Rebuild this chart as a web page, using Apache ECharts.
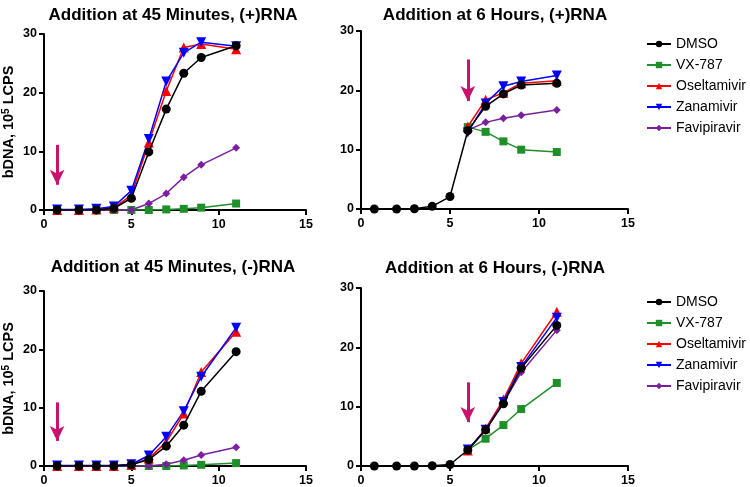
<!DOCTYPE html>
<html>
<head>
<meta charset="utf-8">
<script src="https://cdn.jsdelivr.net/npm/echarts@6/dist/echarts.min.js"></script>
<style>
  html, body { margin: 0; padding: 0; background: #fff; }
  #main { width: 750px; height: 487px; }
</style>
</head>
<body>
<div id="main"></div>
<script>
// hours post infection
var hours = [0.75, 2, 3, 4, 5, 6, 7, 8, 9, 11];
var names = ['DMSO', 'VX-787', 'Oseltamivir', 'Zanamivir', 'Favipiravir'];
var titles = [
    'Addition at 45 Minutes, (+)RNA',
    'Addition at 6 Hours, (+)RNA',
    'Addition at 45 Minutes, (-)RNA',
    'Addition at 6 Hours, (-)RNA'
];

// panel 1: 45 min, (+)RNA
var dmso45p = [0, 0, 0, 0.3, 2.0, 9.9, 17.2, 23.3, 26.0, 28.0];
var vx45p   = [0, 0, 0, 0, 0, 0, 0.1, 0.2, 0.4, 1.1];
var osel45p = [0, 0, 0.1, 0.4, 2.5, 11.5, 20.3, 27.7, 28.3, 27.4];
var zana45p = [0.1, 0.1, 0.2, 0.6, 3.3, 12.1, 21.9, 26.8, 28.6, 27.9];
var favi45p = [0, 0, 0, 0, 0, 1.1, 2.8, 5.6, 7.7, 10.6];

// panel 2: 6 h, (+)RNA
var dmso6p = [0, 0, 0.05, 0.45, 2.1, 13.2, 17.3, 19.4, 20.9, 21.2];
var vx6p   = [null, null, null, null, null, 13.8, 13.0, 11.4, 10.0, 9.6];
var osel6p = [null, null, null, null, null, 13.9, 18.4, 19.6, 21.2, 21.6];
var zana6p = [null, null, null, null, null, 12.9, 17.8, 20.7, 21.5, 22.5];
var favi6p = [null, null, null, null, null, 13.3, 14.6, 15.3, 15.8, 16.7];

// panel 3: 45 min, (-)RNA
var dmso45m = [0, 0, 0, 0, 0.2, 1.1, 3.4, 7.0, 12.8, 19.6];
var vx45m   = [0, 0, 0, 0, 0, 0, 0, 0.1, 0.2, 0.5];
var osel45m = [0, 0, 0, 0, 0.2, 1.3, 4.1, 9.0, 16.1, 23.0];
var zana45m = [0.1, 0.1, 0.1, 0.1, 0.3, 1.8, 5.0, 9.4, 15.3, 23.7];
var favi45m = [0, 0, 0, 0, 0, 0, 0.3, 1.0, 1.9, 3.2];

// panel 4: 6 h, (-)RNA
var dmso6m = [0, 0, 0, 0.05, 0.25, 2.7, 6.1, 10.5, 16.5, 23.7];
var vx6m   = [null, null, null, null, null, 2.7, 4.6, 6.9, 9.6, 14.0];
var osel6m = [null, null, null, null, null, 2.6, 6.3, 11.2, 17.3, 26.0];
var zana6m = [null, null, null, null, null, 2.8, 6.1, 10.8, 16.7, 25.0];
var favi6m = [null, null, null, null, null, 2.7, 6.0, 10.7, 15.8, 22.9];

// drug addition arrows: [x, yFrom, yTo]
var arrows = [[0.75, 11.1, 4.3], [6, 25.2, 18.2], [0.75, 10.9, 4.3], [6, 14.1, 7.4]];

var panels = [
    [dmso45p, vx45p, osel45p, zana45p, favi45p],
    [dmso6p, vx6p, osel6p, zana6p, favi6p],
    [dmso45m, vx45m, osel45m, zana45m, favi45m],
    [dmso6m, vx6m, osel6m, zana6m, favi6m]
];

var colors = ['#000000', '#1f8f2a', '#ff0000', '#0000ff', '#7a1fa0'];
var symbols = ['circle', 'rect', 'triangle', 'triangle', 'diamond'];
var symbolSizes = [9, 8, 10, 10, 8];
var rotates = [0, 0, 0, 180, 0];

var grids = [
    {left: 43, top: 34, width: 263, height: 176},
    {left: 361, top: 31, width: 267, height: 178},
    {left: 43, top: 291, width: 263, height: 176},
    {left: 361, top: 288, width: 267, height: 179}
];
// title box has 5px padding, so centre minus 5
var titleX = [168, 490, 168, 490];
var titleY = [2, 2, 254, 255];

var font = 'Liberation Sans, Arial, sans-serif';
var xAxes = [], yAxes = [], series = [], titleList = [];

grids.forEach(function (g, i) {
    titleList.push({
        text: titles[i],
        left: titleX[i],
        top: titleY[i],
        textAlign: 'center',
        textStyle: {fontFamily: font, fontWeight: 'bold', fontSize: 17, color: '#000'}
    });
    xAxes.push({
        type: 'value', gridIndex: i, min: 0, max: 15, interval: 5,
        axisLine: {show: true, onZero: false, lineStyle: {color: '#000', width: 2}},
        axisTick: {show: true, length: 5, lineStyle: {color: '#000', width: 2}},
        axisLabel: {color: '#000', fontWeight: 'bold', fontSize: 12.5, fontFamily: font, margin: 8},
        splitLine: {show: false}
    });
    yAxes.push({
        type: 'value', gridIndex: i, min: 0, max: 30, interval: 10,
        name: i % 2 === 0 ? '{a|bDNA, 10}{s|5}{a| LCPS}' : '',
        nameLocation: 'middle',
        nameGap: 27,
        nameTextStyle: {
            rich: {
                a: {fontFamily: font, fontWeight: 'bold', fontSize: 14.5, color: '#000'},
                s: {fontFamily: font, fontWeight: 'bold', fontSize: 10, color: '#000', verticalAlign: 'top', padding: [0, 0, 6, 0]}
            }
        },
        axisLine: {show: true, onZero: false, lineStyle: {color: '#000', width: 2}},
        axisTick: {show: true, length: 5, lineStyle: {color: '#000', width: 2}},
        axisLabel: {color: '#000', fontWeight: 'bold', fontSize: 12.5, fontFamily: font, margin: 7},
        splitLine: {show: false}
    });

    panels[i].forEach(function (vals, k) {
        var s = {
            name: names[k],
            type: 'line',
            xAxisIndex: i,
            yAxisIndex: i,
            data: hours.map(function (h, j) { return [h, vals[j]]; }),
            symbol: symbols[k],
            symbolSize: symbolSizes[k],
            symbolRotate: rotates[k],
            showAllSymbol: true,
            connectNulls: false,
            color: colors[k],
            lineStyle: {color: colors[k], width: 1.5},
            itemStyle: {color: colors[k]},
            z: k === 0 ? 3 : 2
        };
        if (k === 0) {
            var a = arrows[i];
            s.markLine = {
                silent: true,
                symbol: ['none', 'arrow'],
                symbolSize: [11, 15],
                label: {show: false},
                lineStyle: {color: '#c8136c', width: 3, type: 'solid'},
                data: [[{coord: [a[0], a[1]]}, {coord: [a[0], a[2]]}]]
            };
        }
        series.push(s);
    });
});

var legendBase = {
    orient: 'vertical',
    left: 641,
    itemWidth: 24,
    itemHeight: 8,
    itemGap: 7,
    data: names,
    textStyle: {fontFamily: font, fontSize: 14, color: '#000'}
};

var chart = echarts.init(document.getElementById('main'));
chart.setOption({
    animation: false,
    backgroundColor: '#fff',
    title: titleList,
    grid: grids,
    xAxis: xAxes,
    yAxis: yAxes,
    legend: [
        Object.assign({}, legendBase, {top: 32}),
        Object.assign({}, legendBase, {top: 290})
    ],
    series: series
});
</script>
</body>
</html>
